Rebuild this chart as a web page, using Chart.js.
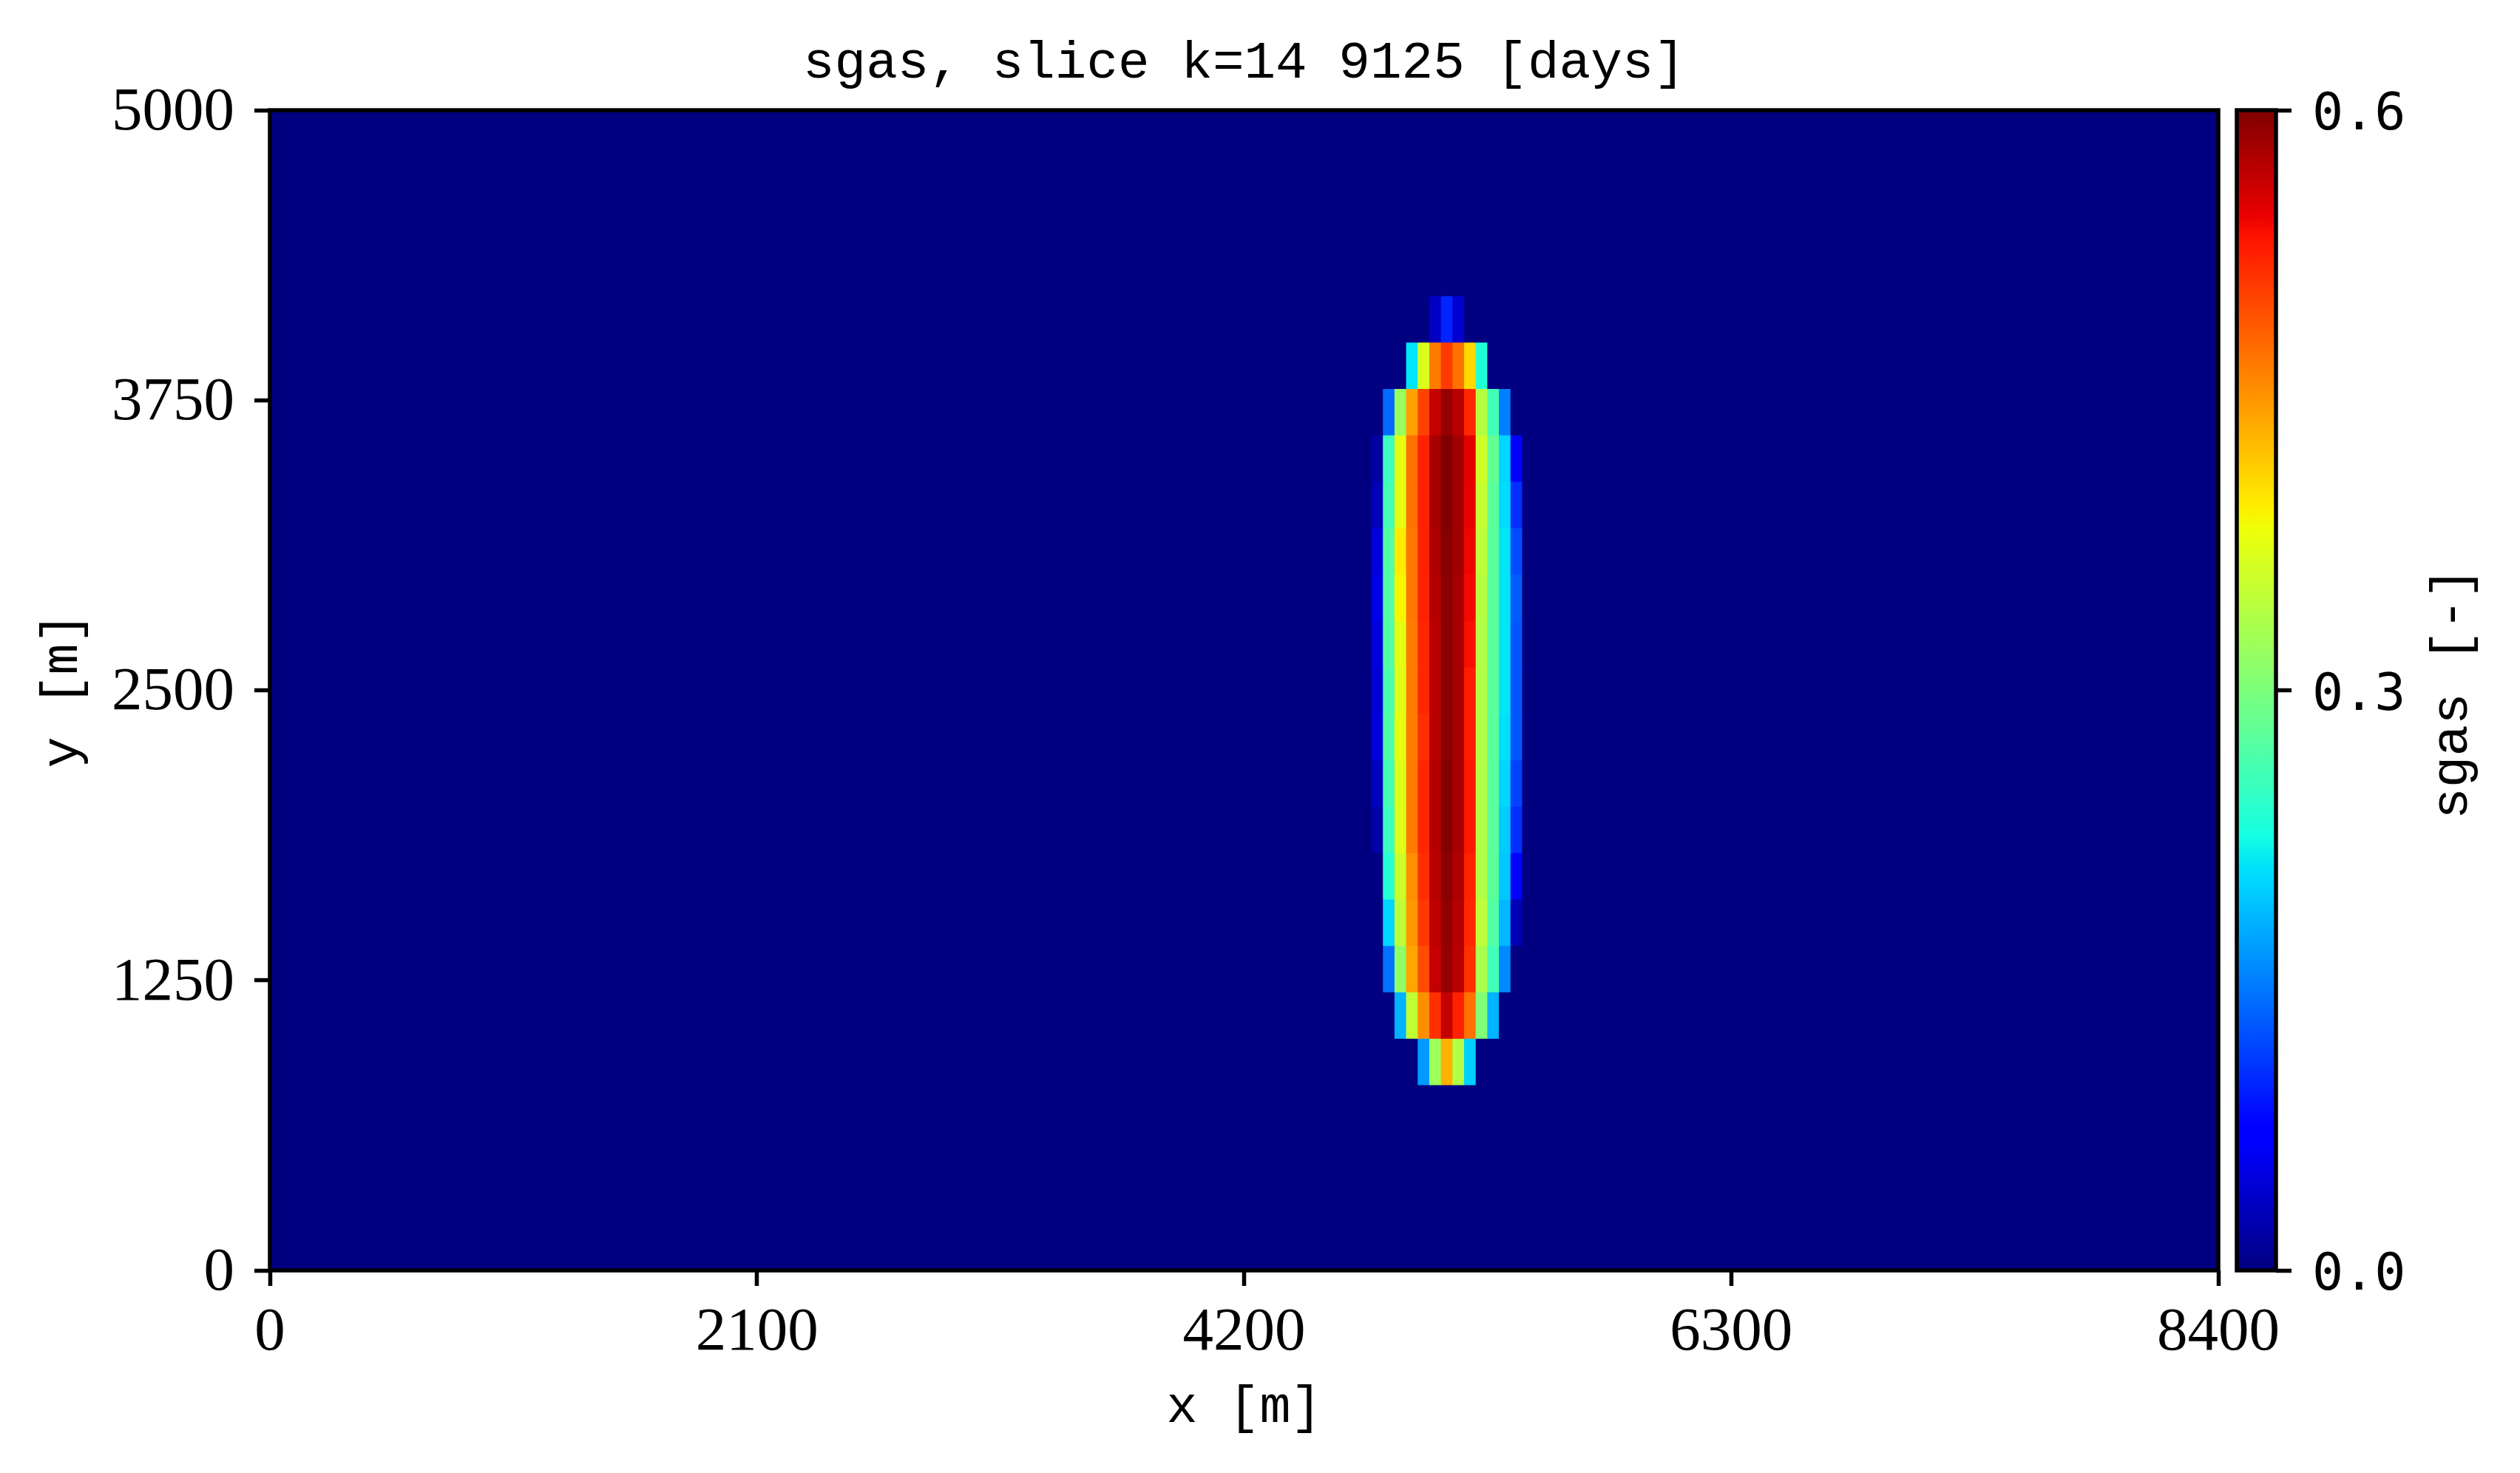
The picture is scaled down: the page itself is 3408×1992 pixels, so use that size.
<!DOCTYPE html>
<html>
<head>
<meta charset="utf-8">
<title>sgas slice</title>
<script src="https://cdn.jsdelivr.net/npm/chart.js@4"></script>
<style>
    html, body { margin: 0; padding: 0; background: #fff; overflow: hidden; }
    canvas { position: absolute; left: 0; top: 0; }
</style>
</head>
<body>
<canvas id="field" width="3408" height="1992"></canvas>
<canvas id="cbar" width="3408" height="1992"></canvas>
<script>
const titleText = "sgas, slice k=14 9125 [days]";
const xLabel = "x [m]";
const yLabel = "y [m]";
const cbarLabel = "sgas [-]";

const xTicks = [0, 2100, 4200, 6300, 8400];
const yTicks = [0, 1250, 2500, 3750, 5000];
const cbarTicks = [0.0, 0.3, 0.6];

//grid is 168 x 25 cells of 50 m x 200 m, row 0 is the top one (y = 5000)
const nCols = 168;
const nRows = 25;
const cellX = 50;
const cellY = 200;
const sgasMin = 0.0;
const sgasMax = 0.6;

//rows that hold gas, every other cell is 0
const gasRows = [4, 5, 6, 7, 8, 9, 10, 11, 12, 13, 14, 15, 16, 17, 18, 19, 20];
const gasFirstCol = [100, 98, 96, 95, 95, 95, 95, 95, 95, 95, 95, 95, 96, 96, 96, 97, 99];
const gasValues = [
    [.036, .096, .042],
    [.210, .369, .468, .510, .474, .408, .234],
    [.138, .321, .444, .504, .564, .588, .570, .522, .342, .258, .150],
    [.018, .252, .378, .474, .525, .579, .600, .582, .549, .360, .282, .201, .066],
    [.030, .258, .378, .474, .525, .579, .600, .582, .546, .354, .276, .204, .102],
    [.048, .270, .396, .471, .525, .576, .597, .582, .543, .348, .276, .210, .120],
    [.054, .270, .390, .471, .525, .573, .594, .579, .540, .342, .276, .210, .129],
    [.048, .270, .378, .468, .522, .570, .594, .579, .537, .339, .276, .210, .126],
    [.045, .264, .375, .468, .522, .570, .594, .579, .528, .339, .276, .210, .126],
    [.048, .267, .378, .468, .516, .570, .594, .579, .528, .339, .276, .207, .126],
    [.033, .258, .372, .468, .522, .573, .597, .579, .531, .339, .276, .201, .114],
    [.021, .252, .372, .468, .522, .573, .597, .579, .531, .339, .276, .195, .102],
    [.237, .360, .456, .516, .570, .594, .576, .525, .339, .276, .192, .066],
    [.201, .348, .450, .510, .567, .591, .573, .522, .348, .270, .183, .027],
    [.141, .315, .441, .498, .564, .588, .570, .516, .333, .258, .156],
    [.180, .351, .456, .516, .564, .525, .474, .303, .180],
    [.165, .324, .432, .339, .198],
];

//jet colormap breakpoints
const jetR = [[0, 0], [.35, 0], [.66, 1], [.89, 1], [1, .5]];
const jetG = [[0, 0], [.125, 0], [.375, 1], [.64, 1], [.91, 0], [1, 0]];
const jetB = [[0, .5], [.11, 1], [.34, 1], [.65, 0], [1, 0]];
const jetStops = [0, .11, .125, .34, .35, .375, .64, .65, .66, .89, .91, 1];

const channel = (table, t) => {
    for (let i = 1; i < table.length; i++) {
        if (t <= table[i][0]) {
            const f = (t - table[i - 1][0]) / (table[i][0] - table[i - 1][0]);
            return table[i - 1][1] + f * (table[i][1] - table[i - 1][1]);
        }
    }
    return table[table.length - 1][1];
};

const jet = (t) => {
    const r = Math.round(255 * channel(jetR, t));
    const g = Math.round(255 * channel(jetG, t));
    const b = Math.round(255 * channel(jetB, t));
    return "rgb(" + r + "," + g + "," + b + ")";
};

const colorOf = (v) => jet((v - sgasMin) / (sgasMax - sgasMin));

//value of a cell, 0 outside the plume
const sgasAt = (row, col) => {
    const idx = gasRows.indexOf(row);
    if (idx < 0) return 0;
    const val = gasValues[idx][col - gasFirstCol[idx]];
    return val === undefined ? 0 : val;
};

//one dataset per grid row, one floating bar per cell
const makeRowDatasets = () => {
    const datasets = [];
    for (let row = 0; row < nRows; row++) {
        const top = (nRows - row) * cellY;
        const data = [];
        const colors = [];
        for (let col = 0; col < nCols; col++) {
            data.push({ x: (col + 0.5) * cellX, y: [top - cellY, top] });
            colors.push(colorOf(sgasAt(row, col)));
        }
        datasets.push({
            data: data,
            backgroundColor: colors,
            borderWidth: 0,
            barPercentage: 1,
            categoryPercentage: 1,
            grouped: false,
            inflateAmount: 0.5,
        });
    }
    return datasets;
};

const LINE_W = 5.5;
const TICK_LEN = 21;
const SERIF = "'Liberation Serif', serif";
const MONO = "'Liberation Mono', monospace";
const SANS_MONO = "'DejaVu Sans Mono', monospace";

//the frame round each axes
const spines = {
    id: "spines",
    afterDatasetsDraw(chart) {
        const { ctx, chartArea: a } = chart;
        ctx.save();
        ctx.strokeStyle = "#000";
        ctx.lineWidth = LINE_W;
        ctx.strokeRect(a.left, a.top, a.right - a.left, a.bottom - a.top);
        ctx.restore();
    },
};

//Chart.js turns a right axis title the other way, so this one is drawn by hand
const cbarTitle = {
    id: "cbarTitle",
    afterDraw(chart) {
        const { ctx, chartArea: a } = chart;
        ctx.save();
        ctx.translate(3317, (a.top + a.bottom) / 2 + 4);
        ctx.rotate(-Math.PI / 2);
        ctx.font = "71px " + MONO;
        ctx.fillStyle = "#000";
        ctx.textAlign = "center";
        ctx.textBaseline = "middle";
        ctx.fillText(cbarLabel, 0, 0);
        ctx.restore();
    },
};

const tickGrid = {
    drawOnChartArea: false,
    drawTicks: true,
    tickLength: TICK_LEN,
    tickWidth: LINE_W,
    tickColor: "#000",
    offset: false,
};

const initField = (id) => {
    new Chart(document.getElementById(id), {
        type: "bar",
        data: { datasets: makeRowDatasets() },
        options: {
            responsive: false,
            devicePixelRatio: 1,
            animation: false,
            layout: { padding: { left: 0, top: 0, right: 408, bottom: 0 } },
            plugins: {
                legend: { display: false },
                tooltip: { enabled: false },
                title: {
                    display: true,
                    text: titleText,
                    fullSize: false,
                    color: "#000",
                    font: { family: MONO, size: 71, weight: "normal", lineHeight: 84 / 71 },
                    padding: { top: 44, bottom: 21 },
                },
            },
            scales: {
                x: {
                    type: "linear",
                    offset: false,
                    min: 0,
                    max: nCols * cellX,
                    grid: tickGrid,
                    border: { display: false },
                    afterBuildTicks: (axis) => { axis.ticks = xTicks.map((v) => ({ value: v })); },
                    afterFit: (axis) => { axis.height = 274; },
                    ticks: {
                        color: "#000",
                        font: { family: SERIF, size: 83 },
                        padding: 14,
                        maxRotation: 0,
                        autoSkip: false,
                        callback: (v) => String(v),
                    },
                    title: {
                        display: true,
                        text: xLabel,
                        color: "#000",
                        font: { family: MONO, size: 70 },
                        padding: { top: 0, bottom: 46 },
                    },
                },
                y: {
                    type: "linear",
                    min: 0,
                    max: nRows * cellY,
                    grid: tickGrid,
                    border: { display: false },
                    afterBuildTicks: (axis) => { axis.ticks = yTicks.map((v) => ({ value: v })); },
                    afterFit: (axis) => { axis.width = 365; },
                    ticks: {
                        color: "#000",
                        font: { family: SERIF, size: 83 },
                        padding: 27,
                        labelOffset: 4,
                        autoSkip: false,
                        callback: (v) => String(v),
                    },
                    title: {
                        display: true,
                        text: yLabel,
                        color: "#000",
                        font: { family: MONO, size: 70 },
                        padding: { top: 43, bottom: 0 },
                    },
                },
            },
        },
        plugins: [spines],
    });
};

const initColorbar = (id) => {
    const gradient = (context) => {
        const a = context.chart.chartArea;
        if (!a) return colorOf(sgasMin);
        const g = context.chart.ctx.createLinearGradient(0, a.bottom, 0, a.top);
        jetStops.map((t) => g.addColorStop(t, jet(t)));
        return g;
    };

    new Chart(document.getElementById(id), {
        type: "bar",
        data: {
            labels: ["sgas"],
            datasets: [{
                data: [[sgasMin, sgasMax]],
                backgroundColor: gradient,
                borderWidth: 0,
                barPercentage: 1,
                categoryPercentage: 1,
            }],
        },
        options: {
            responsive: false,
            devicePixelRatio: 1,
            animation: false,
            layout: { padding: { left: 3025, top: 149, right: 0, bottom: 274 } },
            plugins: { legend: { display: false }, tooltip: { enabled: false } },
            scales: {
                x: { display: false },
                y: {
                    position: "right",
                    min: sgasMin,
                    max: sgasMax,
                    grid: tickGrid,
                    border: { display: false },
                    afterBuildTicks: (axis) => { axis.ticks = cbarTicks.map((v) => ({ value: v })); },
                    afterFit: (axis) => { axis.width = 330; },
                    ticks: {
                        color: "#000",
                        font: { family: SANS_MONO, size: 70 },
                        padding: 28,
                        labelOffset: 8,
                        autoSkip: false,
                        callback: (v) => v.toFixed(1),
                    },
                },
            },
        },
        plugins: [spines, cbarTitle],
    });
};

initField("field");
initColorbar("cbar");
</script>
</body>
</html>
